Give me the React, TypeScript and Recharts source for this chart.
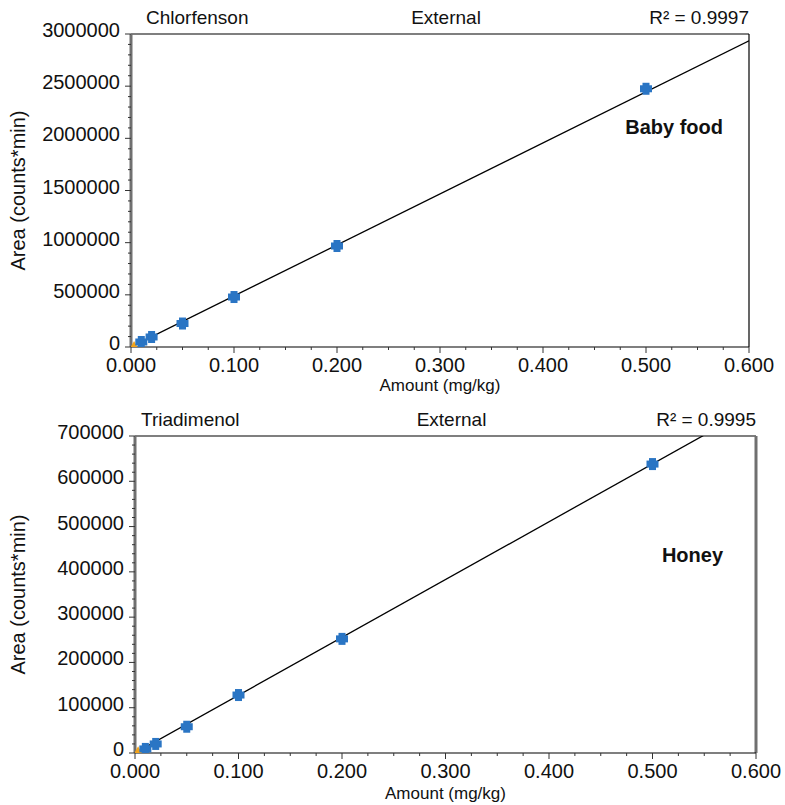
import React from 'react';
import {
  ComposedChart,
  Scatter,
  Line,
  XAxis,
  YAxis,
  ReferenceLine,
} from 'recharts';

const FONT = '"Liberation Sans", Arial, Helvetica, sans-serif';

// calibration levels (mg/kg)
const amounts = [0.01, 0.02, 0.05, 0.1, 0.2, 0.5];
const babyFoodAreas = [48000, 96000, 225000, 479000, 968000, 2475000];
const honeyAreas = [9000, 20000, 58000, 128000, 252000, 638000];

// blank (orange) points near origin
const babyFoodBlank = [{ x: 0.003, y: 14000 }];
const honeyBlank = [{ x: 0.003, y: 5000 }];

// fitted lines
const fitAmounts = [0, 0.6];
const babyFoodFit = [0, 2935000];
const honeyFit = [0, 766000];

const xMajorTicks = [0, 0.1, 0.2, 0.3, 0.4, 0.5, 0.6];
const babyFoodYTicks = [0, 500000, 1000000, 1500000, 2000000, 2500000, 3000000];
const honeyYTicks = [0, 100000, 200000, 300000, 400000, 500000, 600000, 700000];

function withMinors(majors: number[], parts: number) {
  const out: number[] = [];
  for (let i = 0; i < majors.length - 1; i++) {
    const step = (majors[i + 1] - majors[i]) / parts;
    for (let j = 0; j < parts; j++) out.push(majors[i] + step * j);
  }
  out.push(majors[majors.length - 1]);
  return out;
}

const isMajor = (v: number, majors: number[]) =>
  majors.some((m) => Math.abs(m - v) < 1e-7 * Math.max(1, Math.abs(m)));

const toPoints = (xs: number[], ys: number[]) => xs.map((x, i) => ({ x, y: ys[i] }));

const Plus = (props: any) => {
  const { cx, cy } = props;
  if (cx == null || cy == null) return null;
  return (
    <g>
      <rect x={cx - 6} y={cy - 3.5} width={12} height={7} fill="#2a75c4" />
      <rect x={cx - 3.5} y={cy - 6} width={7} height={12} fill="#2a75c4" />
    </g>
  );
};

const Tri = (props: any) => {
  const { cx, cy } = props;
  if (cx == null || cy == null) return null;
  return <path d={`M${cx - 4.5},${cy + 3.5} L${cx + 4.5},${cy + 3.5} L${cx},${cy - 4.5} Z`} fill="#f2a31b" />;
};

const makeYTick = (majors: number[]) => (props: any) => {
  const { x, y, payload } = props;
  const major = isMajor(payload.value, majors);
  return (
    <g>
      <line x1={x - (major ? 6 : 3)} x2={x} y1={y} y2={y} stroke="#333" strokeWidth={1} />
      {major && (
        <text x={x - 11} y={y + 3} textAnchor="end" fontSize={20} fontFamily={FONT} fill="#111">
          {payload.value}
        </text>
      )}
    </g>
  );
};

const XTick = (props: any) => {
  const { x, y, payload } = props;
  const major = isMajor(payload.value, xMajorTicks);
  return (
    <g>
      <line x1={x} x2={x} y1={y} y2={y + (major ? 6 : 3)} stroke="#333" strokeWidth={1} />
      {major && (
        <text x={x} y={y + 25} textAnchor="middle" fontSize={20} fontFamily={FONT} fill="#111">
          {payload.value.toFixed(3)}
        </text>
      )}
    </g>
  );
};

interface PanelProps {
  top: number;
  height: number;
  margin: { top: number; right: number; bottom: number; left: number };
  yTicks: number[];
  points: { x: number; y: number }[];
  blank: { x: number; y: number }[];
  fit: { x: number; y: number }[];
  compound: string;
  compoundDx: number;
  r2: string;
  matrix: string;
  matrixY: number;
  rightColor: string;
  labelOffset: number;
}

function Panel(p: PanelProps) {
  const width = 785;
  const yAxisWidth = 100;
  const plotLeft = p.margin.left + yAxisWidth;
  const plotRight = width - p.margin.right;
  const plotTop = p.margin.top;
  const yMax = p.yTicks[p.yTicks.length - 1];
  const titleStyle: React.CSSProperties = {
    position: 'absolute',
    top: plotTop - 27,
    height: 22,
    lineHeight: '22px',
    fontSize: 19,
    fontFamily: FONT,
    color: '#111',
    whiteSpace: 'nowrap',
  };
  return (
    <div style={{ position: 'absolute', left: 0, top: p.top, width, height: p.height }}>
      <ComposedChart
        width={width}
        height={p.height}
        margin={{ top: p.margin.top, right: p.margin.right, bottom: 0, left: p.margin.left }}
      >
        <XAxis
          type="number"
          dataKey="x"
          domain={[0, 0.6]}
          ticks={withMinors(xMajorTicks, 4)}
          interval={0}
          allowDataOverflow
          tickSize={0}
          tickMargin={0}
          tickLine={false}
          tick={XTick}
          height={p.margin.bottom}
          axisLine={{ stroke: '#000', strokeWidth: 1.2 }}
          label={{
            value: 'Amount (mg/kg)',
            position: 'insideBottom',
            offset: p.labelOffset,
            fontSize: 17,
            fontFamily: FONT,
            fill: '#111',
          }}
        />
        <YAxis
          type="number"
          dataKey="y"
          domain={[0, yMax]}
          ticks={withMinors(p.yTicks, 5)}
          interval={0}
          allowDataOverflow
          width={yAxisWidth}
          tickSize={0}
          tickMargin={0}
          tickLine={false}
          tick={makeYTick(p.yTicks)}
          axisLine={{ stroke: '#707070', strokeWidth: 3 }}
          label={{
            value: 'Area (counts*min)',
            angle: -90,
            position: 'center',
            dx: -(p.margin.left + yAxisWidth / 2 - 18),
            fontSize: 20,
            fontFamily: FONT,
            fill: '#111',
          }}
        />
        <ReferenceLine y={yMax} stroke="#000" strokeWidth={1.2} />
        <ReferenceLine x={0.6} stroke={p.rightColor} strokeWidth={p.rightColor === '#000' ? 1.2 : 3} />
        <Line
          data={p.fit}
          dataKey="y"
          type="linear"
          stroke="#000"
          strokeWidth={1.3}
          dot={false}
          activeDot={false}
          isAnimationActive={false}
        />
        <Scatter data={p.blank} dataKey="y" shape={Tri} isAnimationActive={false} />
        <Scatter data={p.points} dataKey="y" shape={Plus} isAnimationActive={false} />
      </ComposedChart>
      <div style={{ ...titleStyle, left: plotLeft + p.compoundDx }}>{p.compound}</div>
      <div style={{ ...titleStyle, left: (plotLeft + plotRight) / 2 + 6, transform: 'translateX(-50%)' }}>
        External
      </div>
      <div style={{ ...titleStyle, right: width - plotRight }}>{p.r2}</div>
      <div
        style={{
          position: 'absolute',
          right: width - 723,
          top: p.matrixY - 11,
          height: 22,
          lineHeight: '22px',
          fontSize: 20,
          fontWeight: 'bold',
          fontFamily: FONT,
          color: '#111',
        }}
      >
        {p.matrix}
      </div>
    </div>
  );
}

export default function App() {
  return (
    <div style={{ position: 'absolute', left: 0, top: 0, width: 785, height: 805, background: '#fff' }}>
      <Panel
        top={0}
        height={400}
        margin={{ top: 34, right: 36, bottom: 53, left: 31 }}
        yTicks={babyFoodYTicks}
        points={toPoints(amounts, babyFoodAreas)}
        blank={babyFoodBlank}
        fit={toPoints(fitAmounts, babyFoodFit)}
        compound="Chlorfenson"
        compoundDx={15}
        r2="R² = 0.9997"
        matrix="Baby food"
        matrixY={127}
        rightColor="#000"
        labelOffset={9}
      />
      <Panel
        top={400}
        height={405}
        margin={{ top: 36, right: 29, bottom: 52, left: 35 }}
        yTicks={honeyYTicks}
        points={toPoints(amounts, honeyAreas)}
        blank={honeyBlank}
        fit={toPoints(fitAmounts, honeyFit)}
        compound="Triadimenol"
        compoundDx={6}
        r2="R² = 0.9995"
        matrix="Honey"
        matrixY={155}
        rightColor="#707070"
        labelOffset={6}
      />
    </div>
  );
}
